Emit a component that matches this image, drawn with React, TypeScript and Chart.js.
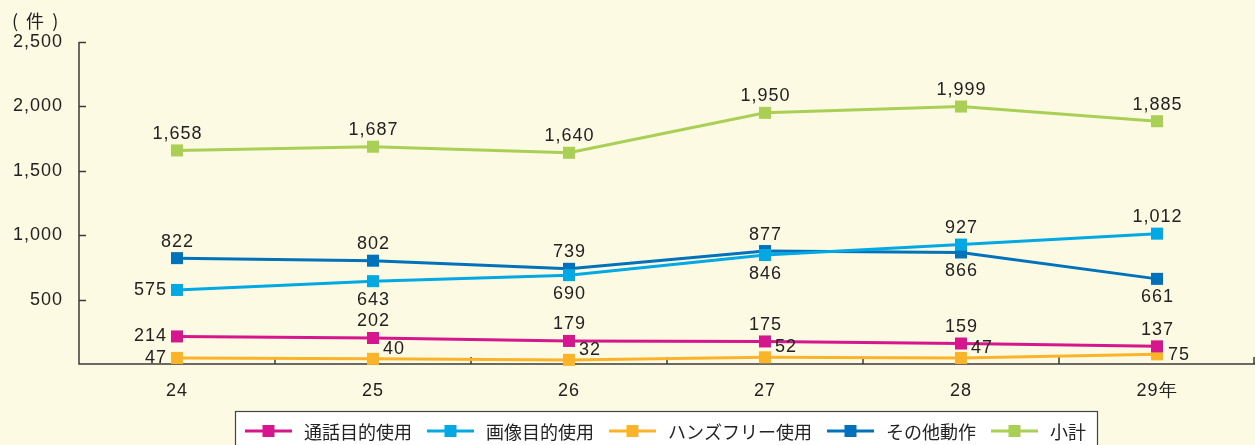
import React, { useEffect, useRef } from 'react';
import { Chart, registerables } from 'chart.js';

Chart.register(...registerables);

// ---- data ----
const years = ['24', '25', '26', '27', '28', '29年'];
const callData = [214, 202, 179, 175, 159, 137];
const imageData = [575, 643, 690, 846, 927, 1012];
const handsFreeData = [47, 40, 32, 52, 47, 75];
const otherData = [822, 802, 739, 877, 866, 661];
const subtotalData = [1658, 1687, 1640, 1950, 1999, 1885];
const seriesNames = ['通話目的使用', '画像目的使用', 'ハンズフリー使用', 'その他動作', '小計'];
const yMax = 2500;
const yStep = 500;
const unitLabel = '( 件 )';

// ---- style ----
const colors = ['#D5168C', '#00A9E4', '#FBB42A', '#0071BB', '#A9CF55'];
const BG = '#FCFAE2';
const TEXT = '#222222';
const AXIS = '#3a3a3a';
const NUM_FONT = '"Liberation Sans", Arial, sans-serif';
const JP_FONT = '"Noto Sans CJK JP", "Noto Sans", sans-serif';

const labelPlacement: string[][] = [
  ['left', 'above', 'above', 'above', 'above', 'above'],
  ['left', 'below', 'below', 'below', 'above', 'above'],
  ['left', 'upright', 'upright', 'upright', 'upright', 'right'],
  ['above', 'above', 'above', 'above', 'below', 'below'],
  ['above', 'above', 'above', 'above', 'above', 'above'],
];

const bgPlugin = {
  id: 'bgPlugin',
  beforeDraw(chart: any) {
    const ctx = chart.ctx;
    ctx.save();
    ctx.fillStyle = BG;
    ctx.fillRect(0, 0, chart.width, chart.height);
    ctx.restore();
    ctx.letterSpacing = '1px';
  },
};

const axesPlugin = {
  id: 'axesPlugin',
  beforeDatasetsDraw(chart: any) {
    const ctx = chart.ctx;
    const { left, right, top, bottom } = chart.chartArea;
    const ys = chart.scales.y;
    ctx.save();
    ctx.strokeStyle = AXIS;
    ctx.lineWidth = 1.5;
    ctx.beginPath();
    ctx.moveTo(left, top);
    ctx.lineTo(left, bottom);
    ctx.lineTo(right, bottom);
    for (let v = yStep; v <= yMax; v += yStep) {
      const y = Math.round(ys.getPixelForValue(v)) + 0.5;
      ctx.moveTo(left, y);
      ctx.lineTo(left + 7, y);
    }
    const n = years.length;
    for (let i = 1; i <= n; i++) {
      const x = Math.min(left + ((right - left) * i) / n, right - 1);
      ctx.moveTo(x, bottom);
      ctx.lineTo(x, bottom - 7);
    }
    ctx.stroke();
    // unit label
    ctx.letterSpacing = '2px';
    ctx.fillStyle = TEXT;
    ctx.font = `18px ${JP_FONT}`;
    ctx.textAlign = 'left';
    ctx.textBaseline = 'middle';
    ctx.fillText(unitLabel, 12, 21);
    ctx.restore();
  },
};

const valueLabelPlugin = {
  id: 'valueLabelPlugin',
  afterDatasetsDraw(chart: any) {
    const ctx = chart.ctx;
    ctx.save();
    ctx.letterSpacing = '1px';
    ctx.fillStyle = TEXT;
    ctx.font = `18px ${NUM_FONT}`;
    ctx.textBaseline = 'middle';
    chart.data.datasets.forEach((ds: any, di: number) => {
      const meta = chart.getDatasetMeta(di);
      meta.data.forEach((pt: any, i: number) => {
        const text = Number(ds.data[i]).toLocaleString('en-US');
        const pos = labelPlacement[di][i];
        let x = pt.x;
        let y = pt.y;
        if (pos === 'above') {
          ctx.textAlign = 'center';
          y -= 16.5;
          x += 0.5;
        } else if (pos === 'below') {
          ctx.textAlign = 'center';
          y += 18.5;
          x += 0.5;
        } else if (pos === 'left') {
          ctx.textAlign = 'right';
          x -= 10;
        } else if (pos === 'upright') {
          ctx.textAlign = 'left';
          x += 10;
          y -= 10;
        } else {
          ctx.textAlign = 'left';
          x += 11;
          y += 1;
        }
        ctx.fillText(text, x, y);
      });
    });
    ctx.restore();
  },
};

const legendPlugin = {
  id: 'customLegend',
  afterDraw(chart: any) {
    const ctx = chart.ctx;
    ctx.save();
    ctx.letterSpacing = '0px';
    // box
    ctx.fillStyle = '#ffffff';
    ctx.fillRect(235.5, 411.5, 862, 40);
    ctx.strokeStyle = '#444444';
    ctx.lineWidth = 1.2;
    ctx.strokeRect(235.5, 411.5, 862, 40);
    ctx.font = `18px ${JP_FONT}`;
    ctx.textBaseline = 'middle';
    ctx.textAlign = 'left';
    const cy = 431;
    let x = 245;
    seriesNames.forEach((name, i) => {
      ctx.strokeStyle = colors[i];
      ctx.lineWidth = 3;
      ctx.beginPath();
      ctx.moveTo(x, cy);
      ctx.lineTo(x + 47, cy);
      ctx.stroke();
      ctx.fillStyle = colors[i];
      ctx.fillRect(x + 23.5 - 6, cy - 6, 12, 12);
      x += 47 + 12;
      ctx.fillStyle = TEXT;
      ctx.fillText(name, x, cy + 1);
      x += ctx.measureText(name).width + 15;
    });
    ctx.restore();
  },
};

export default function App() {
  const ref = useRef<HTMLCanvasElement | null>(null);

  useEffect(() => {
    document.body.style.margin = '0';
    document.body.style.background = BG;
    if (!ref.current) return;
    const seriesData = [callData, imageData, handsFreeData, otherData, subtotalData];
    const chart = new Chart(ref.current, {
      type: 'line',
      data: {
        labels: years,
        datasets: seriesData.map((d, i) => ({
          label: seriesNames[i],
          data: d,
          borderColor: colors[i],
          backgroundColor: colors[i],
          borderWidth: 3,
          tension: 0,
          pointStyle: 'rect',
          pointRadius: 8.5,
          pointHoverRadius: 8.5,
          pointBorderWidth: 0,
          pointBackgroundColor: colors[i],
          pointBorderColor: colors[i],
          clip: false,
        })),
      },
      options: {
        responsive: false,
        animation: false,
        devicePixelRatio: 1,
        layout: { autoPadding: false, padding: { top: 42, right: 0, left: 0, bottom: 0 } },
        plugins: {
          legend: { display: false },
          tooltip: { enabled: false },
        },
        scales: {
          x: {
            type: 'category',
            offset: true,
            grid: { display: false, drawTicks: false },
            border: { display: false },
            ticks: {
              color: TEXT,
              font: { family: NUM_FONT, size: 18 },
              padding: 16,
              maxRotation: 0,
              autoSkip: false,
            },
            afterFit(scale: any) {
              scale.height = 81;
              scale.paddingLeft = 0;
              scale.paddingRight = 0;
            },
          },
          y: {
            min: 0,
            max: yMax,
            grid: { display: false, drawTicks: false },
            border: { display: false },
            ticks: {
              stepSize: yStep,
              color: TEXT,
              font: { family: NUM_FONT, size: 18 },
              padding: 16,
              callback: (v: any) => (Number(v) === 0 ? '' : Number(v).toLocaleString('en-US')),
            },
            afterFit(scale: any) {
              scale.width = 79;
            },
          },
        },
      },
      plugins: [bgPlugin, axesPlugin, valueLabelPlugin, legendPlugin],
    } as any);
    return () => chart.destroy();
  }, []);

  return (
    <div style={{ position: 'absolute', left: 0, top: 0, width: 1255, height: 445, background: BG }}>
      <canvas ref={ref} width={1255} height={445} style={{ display: 'block', width: 1255, height: 445 }} />
    </div>
  );
}
